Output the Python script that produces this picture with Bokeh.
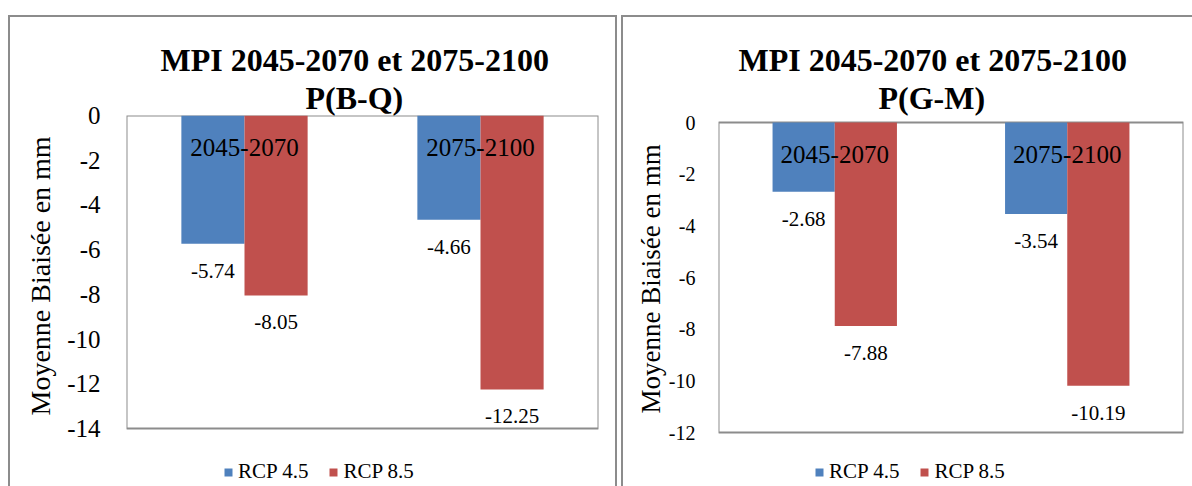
from bokeh.plotting import figure
from bokeh.models import (Range1d, FixedTicker, Title, Legend, LegendItem, ColumnDataSource)
from bokeh.layouts import row
from bokeh.core.properties import value
from bokeh.embed import file_html
from bokeh.resources import INLINE

# ---------------- data ----------------
periods = ["2045-2070", "2075-2100"]
series = ["RCP 4.5", "RCP 8.5"]
bq_rcp45 = [-5.74, -4.66]
bq_rcp85 = [-8.05, -12.25]
gm_rcp45 = [-2.68, -3.54]
gm_rcp85 = [-7.88, -10.19]
ticks_bq = [0, -2, -4, -6, -8, -10, -12, -14]
ticks_gm = [0, -2, -4, -6, -8, -10, -12]
title_main = "MPI 2045-2070 et 2075-2100"
subtitle_bq = "P(B-Q)"
subtitle_gm = "P(G-M)"
y_label = "Moyenne Biaisée en mm"

BLUE = "#4F81BD"
RED = "#C0504D"
GRAY = "#8c8c8c"
FONT = "'Liberation Serif'"
BW = 0.2675  # bar width as fraction of a category
FRAME_TOP = 98  # canvas px reserved above the frame (titles)


def make_chart(v45, v85, ticks, subtitle, width, height, zero_px, axis_bottom_px,
               min_left, min_right, tick_size, tick_standoff, title_offsets,
               ylab_size, ylab_offset, ylab_standoff, legend_loc, border_style):
    # canvas pixel layout: frame from FRAME_TOP to the canvas bottom; the value
    # axis (max(ticks) .. min(ticks)) occupies zero_px .. axis_bottom_px
    px_per_unit = (axis_bottom_px - zero_px) / (max(ticks) - min(ticks))
    y_max = max(ticks) + (zero_px - FRAME_TOP) / px_per_unit
    y_min = max(ticks) - (height - zero_px) / px_per_unit

    n = len(periods)
    p = figure(x_range=Range1d(0, n), y_range=Range1d(y_min, y_max),
               width=width, height=height, output_backend="svg", toolbar_location=None,
               x_axis_location=None, min_border_left=min_left, min_border_right=min_right,
               min_border_top=FRAME_TOP, min_border_bottom=0)
    p.styles = border_style
    p.grid.visible = False
    p.outline_line_color = None
    p.background_fill_color = "white"
    p.border_fill_color = "white"

    xs = [i + 0.5 for i in range(n)]
    src = ColumnDataSource(dict(
        x45=[x - BW / 2 for x in xs], x85=[x + BW / 2 for x in xs], xc=xs,
        period=periods, v45=v45, v85=v85,
        l45=[f"{v:.2f}" for v in v45], l85=[f"{v:.2f}" for v in v85],
        zero=[0] * n))

    # plot area box (value axis range x category range)
    p.quad(left=[0], right=[n], top=[max(ticks)], bottom=[min(ticks)],
           fill_color=None, line_color=GRAY, line_width=2)

    r1 = p.vbar(x="x45", top="zero", bottom="v45", width=BW, fill_color=BLUE,
                line_color=None, source=src)
    r2 = p.vbar(x="x85", top="zero", bottom="v85", width=BW, fill_color=RED,
                line_color=None, source=src)

    # value labels under the bar ends
    p.text(x="x45", y="v45", text="l45", source=src,
           text_align="center", text_baseline="middle", y_offset=27,
           text_font=value(FONT), text_font_size="21px", text_color="black")
    p.text(x="x85", y="v85", text="l85", source=src,
           text_align="center", text_baseline="middle", y_offset=27,
           text_font=value(FONT), text_font_size="21px", text_color="black")
    # category labels next to the zero axis
    p.text(x="xc", y="zero", text="period", source=src,
           text_align="center", text_baseline="middle", y_offset=32,
           text_font=value(FONT), text_font_size="25px", text_color="black")

    ax = p.yaxis[0]
    ax.ticker = FixedTicker(ticks=ticks)
    ax.major_label_overrides = {t: str(t) for t in ticks}
    ax.axis_line_color = None
    ax.major_tick_line_color = None
    ax.minor_tick_line_color = None
    ax.major_label_standoff = tick_standoff
    ax.major_label_text_font = FONT
    ax.major_label_text_font_size = tick_size
    ax.major_label_text_color = "black"

    # axis title, placed along the value axis
    yt = Title(text=y_label, align="left", offset=ylab_offset, standoff=ylab_standoff,
               text_font=FONT, text_font_size=ylab_size, text_font_style="normal",
               text_color="black")
    p.add_layout(yt, "left")

    t2 = Title(text=subtitle, align="left", text_font=FONT, text_font_size="32px",
               text_font_style="bold", text_color="black", offset=title_offsets[1],
               standoff=0)
    t1 = Title(text=title_main, align="left", text_font=FONT, text_font_size="32px",
               text_font_style="bold", text_color="black", offset=title_offsets[0],
               standoff=0)
    p.add_layout(t2, "above")
    p.add_layout(t1, "above")

    legend = Legend(items=[LegendItem(label=series[0], renderers=[r1]),
                           LegendItem(label=series[1], renderers=[r2])],
                    orientation="horizontal", location=legend_loc,
                    padding=0, margin=0, spacing=20, label_standoff=5,
                    glyph_width=10, glyph_height=10,
                    label_text_font=FONT, label_text_font_size="21px",
                    label_text_color="black",
                    border_line_color=None, background_fill_alpha=0)
    p.add_layout(legend)
    return p


H = 471
p1 = make_chart(bq_rcp45, bq_rcp85, ticks_bq, subtitle_bq, 609, H, 115 - 17, 428 - 17,
                116, 21, "25px", 20, (34, 179), "28px", 73, 18, (97, 4),
                {"border": "2px solid " + GRAY, "border-bottom": "none",
                 "margin-top": "15px", "margin-left": "8px"})
p2 = make_chart(gm_rcp45, gm_rcp85, ticks_gm, subtitle_gm, 571, H, 122 - 17, 432 - 17,
                95, 11, "20px", 17, (20, 160), "27px", 75, 0, (96, 4),
                {"border": "2px solid " + GRAY, "border-bottom": "none",
                 "border-right": "none", "margin-top": "15px", "margin-left": "4px"})

layout = row(p1, p2)
open("out.html", "w").write(file_html(layout, INLINE))
